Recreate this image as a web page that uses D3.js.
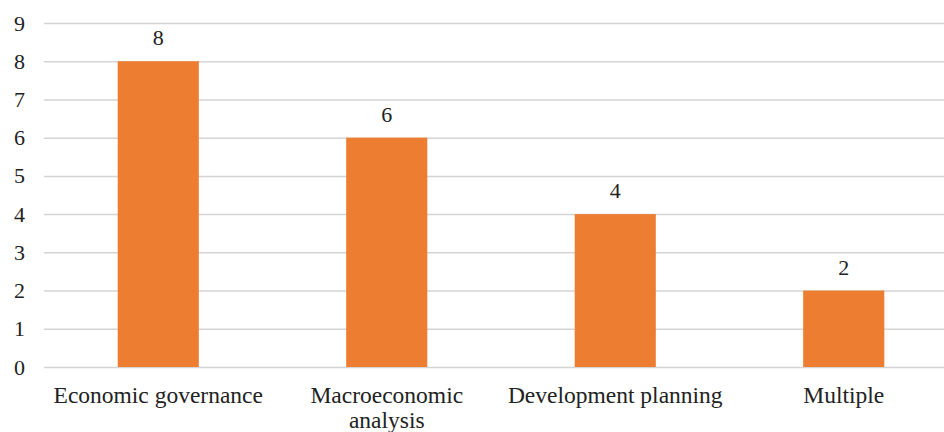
<!DOCTYPE html>
<html>
<head>
<meta charset="utf-8">
<script src="https://cdn.jsdelivr.net/npm/d3@7"></script>
<style>
  body { margin: 0; background: #fff; }
</style>
</head>
<body>
<svg id="chart" width="944" height="432"></svg>
<script>
var categories = ["Economic governance", "Macroeconomic analysis", "Development planning", "Multiple"];
var counts = [8, 6, 4, 2];
var yTicks = [0, 1, 2, 3, 4, 5, 6, 7, 8, 9];

var FONT = "'Liberation Serif'";

var margin = {top: 23, left: 44},
	plotW = 914,
	plotH = 344;

var svg = d3.select("#chart");
var g = svg.append("g")
	.attr("transform", "translate(" + margin.left + "," + margin.top + ")");

var x = d3.scaleBand()
	.domain(categories)
	.range([0, plotW])
	.paddingInner(0.645)
	.paddingOuter(0.3225);

var y = d3.scaleLinear().domain([0, 9]).range([plotH, 0]);

// gridlines + y labels
var yAxis = g.append("g")
	.call(d3.axisLeft(y).tickValues(yTicks).tickSize(-plotW).tickPadding(19).tickFormat(d3.format("d")));
yAxis.select(".domain").remove();
yAxis.selectAll(".tick line").attr("stroke", "#d4d4d4").attr("stroke-width", 1.5);
yAxis.selectAll(".tick text")
	.style("font-family", FONT)
	.style("font-size", "22px")
	.attr("fill", "#222");

var data = categories.map(function(c, i) { return {name: c, value: counts[i]}; });

g.selectAll("rect.bar")
	.data(data)
	.enter()
	.append("rect")
	.attr("class", "bar")
	.attr("x", function(d) { return x(d.name); })
	.attr("y", function(d) { return y(d.value); })
	.attr("width", x.bandwidth())
	.attr("height", function(d) { return plotH - y(d.value); })
	.attr("fill", "#ED7D31");

g.selectAll("text.val")
	.data(data)
	.enter()
	.append("text")
	.attr("class", "val")
	.attr("x", function(d) { return x(d.name) + x.bandwidth() / 2; })
	.attr("y", function(d) { return y(d.value) - 16; })
	.attr("text-anchor", "middle")
	.style("font-family", FONT)
	.style("font-size", "22px")
	.attr("fill", "#222")
	.text(function(d) { return d.value; });

// category labels, wrap the long one like the original
var wrapAt = {"Macroeconomic analysis": ["Macroeconomic", "analysis"]};
var lab = g.selectAll("text.cat")
	.data(data)
	.enter()
	.append("text")
	.attr("class", "cat")
	.attr("text-anchor", "middle")
	.style("font-family", FONT)
	.style("font-size", "23.5px")
	.attr("fill", "#222")
	.attr("transform", function(d) { return "translate(" + (x(d.name) + x.bandwidth() / 2) + "," + (plotH + 36) + ")"; });

lab.each(function(d) {
	var lines = wrapAt[d.name] || [d.name];
	var t = d3.select(this);
	lines.forEach(function(l, i) {
		t.append("tspan").attr("x", 0).attr("dy", i === 0 ? 0 : 25).text(l);
	});
});
</script>
</body>
</html>
